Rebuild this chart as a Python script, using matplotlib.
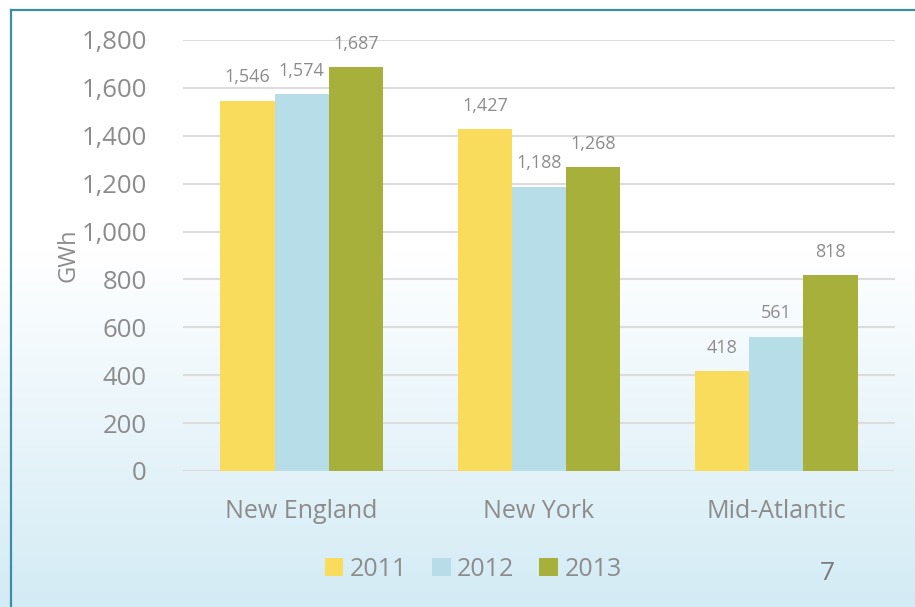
import matplotlib
matplotlib.use("Agg")
import matplotlib.pyplot as plt
import numpy as np
from matplotlib.patches import Patch
from matplotlib.lines import Line2D

categories = ["New England", "New York", "Mid-Atlantic"]
series_names = ["2011", "2012", "2013"]
values_2011 = [1546, 1427, 418]
values_2012 = [1574, 1188, 561]
values_2013 = [1687, 1268, 818]
yticks = [0, 200, 400, 600, 800, 1000, 1200, 1400, 1600, 1800]

colors = ["#F9DC5C", "#B7DEE8", "#A8B03C"]
text_gray = "#8C8C8C"

plt.rcParams['font.family'] = ['Open Sans', 'DejaVu Sans']

fig = plt.figure(figsize=(9.15, 6.07), dpi=100)

# background gradient
bg = fig.add_axes([0, 0, 1, 1], zorder=-10)
h = 607
grad = np.ones((h, 1, 3))
top = np.array([1.0, 1.0, 1.0])
bot = np.array([0xD3, 0xEB, 0xF5]) / 255.0
for i in range(h):
    t = (i - 250) / (h - 250)
    t = min(max(t, 0), 1)
    grad[i, 0] = top * (1 - t) + bot * t
bg.imshow(grad, aspect='auto', extent=[0, 1, 0, 1], origin='upper')
bg.set_xlim(0, 1); bg.set_ylim(0, 1)
bg.axis('off')
# border lines
fx = 11 / 915
fy = 1 - 9.5 / 607
bg.add_line(Line2D([fx, 1], [fy, fy], color="#3C8FA2", lw=1.6))
bg.add_line(Line2D([fx, fx], [0, fy], color="#3C8FA2", lw=1.6))

ax = fig.add_axes([183 / 915, 1 - 471 / 607, (895 - 183) / 915, (471 - 40) / 607])
ax.patch.set_alpha(0)
x = np.arange(len(categories))
w = 0.228
allvals = [values_2011, values_2012, values_2013]
for k, (vals, c, name) in enumerate(zip(allvals, colors, series_names)):
    bars = ax.bar(x + (k - 1) * w, vals, w, color=c, label=name, zorder=3)
    for xi, v in zip(x + (k - 1) * w, vals):
        ax.text(xi, v + 60, f"{v:,}", ha='center', va='bottom', fontsize=13, color=text_gray)

ax.set_xlim(-0.5, 2.5)
ax.set_ylim(0, 1800)
ax.set_yticks(yticks)
ax.set_yticklabels([f"{t:,}" for t in yticks])
ax.yaxis.grid(True, color="#DCDCDC", lw=1.5, zorder=0)
ax.set_axisbelow(True)
for s in ax.spines.values():
    s.set_visible(False)
ax.tick_params(axis='y', length=0, labelsize=18.5, labelcolor=text_gray, pad=26)
ax.tick_params(axis='x', length=0, labelsize=18, labelcolor=text_gray, pad=20)
ax.set_xticks(x)
ax.set_xticklabels(categories)
ax.set_ylabel("GWh", fontsize=17, color=text_gray, labelpad=1)

handles = [Patch(facecolor=c, edgecolor='none') for c in colors]
fig.legend(handles, series_names, loc='center', bbox_to_anchor=(473 / 915, 1 - 569 / 607),
           ncol=3, frameon=False, fontsize=18, labelcolor=text_gray,
           handlelength=0.75, handleheight=0.75, handletextpad=0.25, columnspacing=1.0)

fig.text(827 / 915, 1 - 573 / 607, "7", fontsize=19, color="#7A7A7A", ha='center', va='center')

fig.savefig("out.png", dpi=100)
